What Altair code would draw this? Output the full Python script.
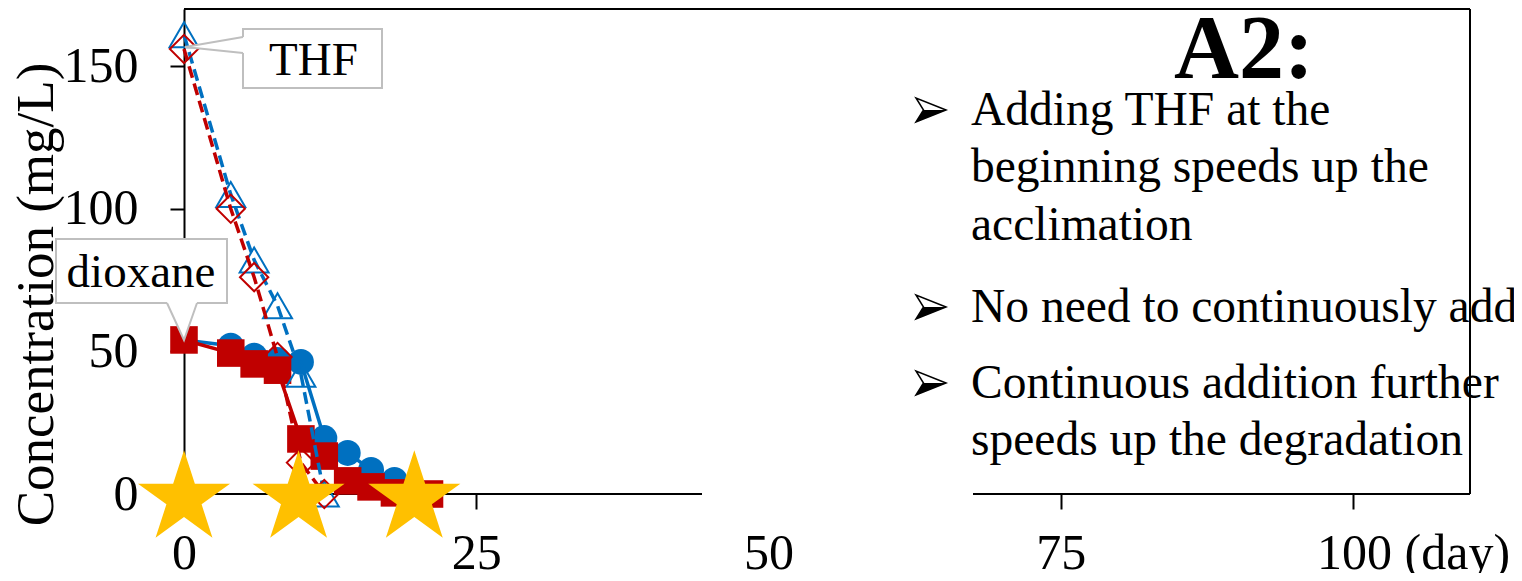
import math
import altair as alt
import pandas as pd

# ---------------- data ----------------
diox_blue_day = [0, 4, 6, 8, 10, 12, 14, 16, 18, 20]
diox_blue_val = [54, 52, 48.5, 47, 46.3, 19.6, 14.4, 8.4, 4.9, 0.5]
diox_red_day = [0, 4, 6, 8, 10, 12, 14, 16, 18, 21]
diox_red_val = [54, 49.4, 45.6, 43.4, 19.3, 13.3, 4.6, 2.5, 0.4, 0]
thf_blue_day = [0, 4, 6, 8, 10, 12]
thf_blue_val = [161, 105, 82, 66, 42, 0]
thf_red_day = [0, 4, 6, 8, 10, 12]
thf_red_val = [156, 100, 76, 48, 11, 0]
star_day = [0, 9.8, 19.7]
star_val = [0, 0, 0]
x_ticks = [0, 25, 50, 75, 100]
y_ticks = [0, 50, 100, 150]

title_text = "A2:"
bullet_lines = ["Adding THF at the", "beginning speeds up the", "acclimation",
                "No need to continuously add", "Continuous addition further",
                "speeds up the degradation"]
bullet_marks = [True, False, False, True, True, False]

# ---------------- layout ----------------
W, H = 1286, 485
X_MAX, Y_MAX = 110, 170
OX, OY = 184, 494  # absolute pixel of data origin


def xd(px):
    return (px - OX) * X_MAX / W


def yd(py):
    return (OY - py) * Y_MAX / H


FONT = "Liberation Serif"
BLUE = "#0070C0"
RED = "#C00000"
GOLD = "#FFC000"
GRAY = "#BFBFBF"

xs = alt.Scale(domain=[0, X_MAX], nice=False, zero=False)
ys = alt.Scale(domain=[0, Y_MAX], nice=False, zero=False)

x_axis = alt.Axis(
    values=x_ticks, title=None, domain=False, grid=False,
    ticks=True, tickSize=15, tickWidth=2, tickColor="black",
    tickOpacity={"condition": {"test": "datum.value == 50", "value": 0}, "value": 1},
    labelFont=FONT, labelFontSize=50, labelColor="black", labelPadding=19, labelLimit=400,
    labelExpr="datum.value == 100 ? '100 (day)' : datum.label",
    labelOffset={"condition": {"test": "datum.value == 100", "value": 60}, "value": 0},
    labelFlush=False, labelOverlap=False, labelBound=False,
)
y_axis = alt.Axis(
    values=y_ticks, title="Concentration (mg/L)", grid=False,
    domain=True, domainColor="black", domainWidth=2,
    ticks=True, tickSize=14, tickWidth=2, tickColor="black",
    labelFont=FONT, labelFontSize=50, labelColor="black", labelPadding=32,
    labelFlush=False, labelOverlap=False, labelBound=False,
    titleFont=FONT, titleFontSize=53, titleFontWeight="normal", titleColor="black",
    titleAngle=270, titleX=-132, titleY=285, titleBaseline="alphabetic", titleAlign="center",
    titleLimit=800,
)


def X(f):
    return alt.X(f, type="quantitative", scale=xs, axis=x_axis)


def Y(f):
    return alt.Y(f, type="quantitative", scale=ys, axis=y_axis)


# frame (top, right, and bottom pieces)
frame_df = pd.DataFrame({
    "x": [0, X_MAX, 0, xd(973)],
    "x2": [X_MAX, X_MAX, xd(702), X_MAX],
    "y": [Y_MAX, 0, 0, 0],
    "y2": [Y_MAX, Y_MAX, 0, 0],
})
frame = alt.Chart(frame_df).mark_rule(color="black", strokeWidth=2).encode(
    x=X("x"), x2="x2", y=Y("y"), y2="y2")


def series(days, vals, color, shape, filled, size, dash=None):
    df = pd.DataFrame({"x": days, "y": vals})
    base = alt.Chart(df).encode(x=X("x"), y=Y("y"))
    if dash:
        line = base.mark_line(color=color, strokeWidth=3.5, strokeDash=dash)
    else:
        line = base.mark_line(color=color, strokeWidth=3.5)
    if filled:
        pts = base.mark_point(shape=shape, filled=True, fill=color, color=color,
                              size=size, opacity=1, strokeWidth=0)
    else:
        pts = base.mark_point(shape=shape, filled=False, color=color,
                              size=size, opacity=1, strokeWidth=2)
    return [line, pts]


layers = [frame]
layers += series(diox_blue_day, diox_blue_val, BLUE, "circle", True, 676)
layers += series(diox_red_day, diox_red_val, RED, "square", True, 760)
layers += series(thf_blue_day, thf_blue_val, BLUE, "triangle-up", False, 840, [12, 6])
layers += series(thf_red_day, thf_red_val, RED, "diamond", False, 800, [12, 6])

# stars
pts = []
for k in range(10):
    r = 1.0 if k % 2 == 0 else 0.382
    a = math.radians(-90 + 36 * k)
    pts.append((r * math.cos(a), r * math.sin(a) + 0.0955))
STAR = "M" + "L".join(f"{px:.4f},{py:.4f}" for px, py in pts) + "Z"
star_df = pd.DataFrame({"x": star_day, "y": star_val})
layers.append(alt.Chart(star_df).mark_point(
    shape=STAR, filled=True, fill=GOLD, color=GOLD, size=9370, opacity=1, strokeWidth=0
).encode(x=X("x"), y=Y("y")))


# callouts
def box(px1, px2, py1, py2):
    df = pd.DataFrame({"x": [xd(px1)], "x2": [xd(px2)], "y": [yd(py1)], "y2": [yd(py2)]})
    return alt.Chart(df).mark_rect(fill="white", stroke=GRAY, strokeWidth=2).encode(
        x=X("x"), x2="x2", y=Y("y"), y2="y2")


def polyline(pxs, pys):
    df = pd.DataFrame({"x": [xd(p) for p in pxs], "y": [yd(p) for p in pys],
                       "o": list(range(len(pxs)))})
    return alt.Chart(df).mark_line(color=GRAY, strokeWidth=2).encode(
        x=X("x"), y=Y("y"), order="o:Q")


def label(px, py, text, size=47, align="center", weight="normal", font=FONT):
    df = pd.DataFrame({"x": [xd(px)], "y": [yd(py)], "t": [text]})
    return alt.Chart(df).mark_text(
        font=font, fontSize=size, align=align, baseline="alphabetic",
        fontWeight=weight, color="black").encode(x=X("x"), y=Y("y"), text="t:N")


# THF callout
layers.append(box(243, 382, 29, 88))
thf_fill = pd.DataFrame({"x": [xd(185), xd(243), xd(247)],
                         "y": [yd(47), yd(37), yd(37)],
                         "y2": [yd(47), yd(53), yd(53)]})
layers.append(alt.Chart(thf_fill).mark_area(color="white", opacity=1, orient="vertical").encode(
    x=X("x"), y=Y("y"), y2="y2"))
layers.append(polyline([243, 185, 243], [37, 47, 53]))
layers.append(label(313.5, 75, "THF"))

# dioxane callout
layers.append(box(56, 227, 239, 303))
dx_fill = pd.DataFrame({"y": [yd(340), yd(303), yd(299)],
                        "x": [xd(184), xd(167), xd(167)],
                        "x2": [xd(184), xd(197), xd(197)]})
layers.append(alt.Chart(dx_fill).mark_area(color="white", opacity=1, orient="horizontal").encode(
    y=Y("y"), x=X("x"), x2="x2"))
layers.append(polyline([167, 184, 197], [303, 340, 303]))
layers.append(label(141, 287, "dioxane"))

# right-hand notes
layers.append(label(1244, 78, title_text, size=90, weight="bold"))
baselines = [125, 182, 240, 322, 398, 455]
ARROW_FULL = "M1,0L-1,-0.8L-0.5,0L-1,0.8Z"
ARROW_LOW = "M1,0L-0.5,0L-1,0.8Z"
arrow_y = []
for line, bl, mark in zip(bullet_lines, baselines, bullet_marks):
    layers.append(label(971, bl, line, size=47.5, align="left"))
    if mark:
        arrow_y.append(yd(bl - 15))
arrow_df = pd.DataFrame({"x": [xd(931)] * len(arrow_y), "y": arrow_y})
layers.append(alt.Chart(arrow_df).mark_point(
    shape=ARROW_LOW, filled=True, fill="black", size=900, opacity=1, strokeWidth=0
).encode(x=X("x"), y=Y("y")))
layers.append(alt.Chart(arrow_df).mark_point(
    shape=ARROW_FULL, filled=False, color="black", size=900, opacity=1, strokeWidth=1.5
).encode(x=X("x"), y=Y("y")))

chart = alt.layer(*layers).properties(
    width=W, height=H, autosize="none",
    padding={"left": OX - 8, "top": OY - H - 8, "right": 1522 - 8 - OX - W, "bottom": 79},
    background="white",
).configure_view(stroke="transparent")

chart.save("out.html", embed_options={"renderer": "svg", "actions": False})
